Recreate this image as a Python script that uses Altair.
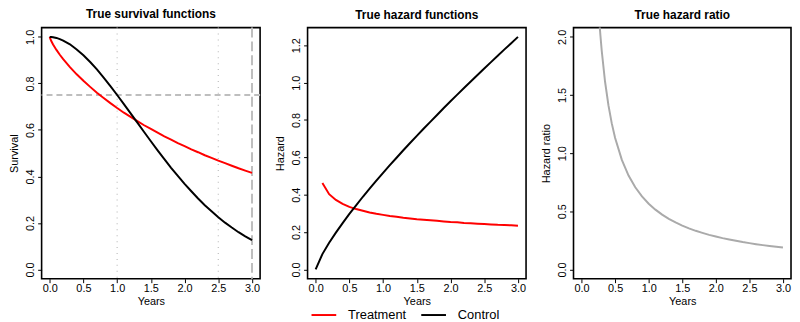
import altair as alt
import pandas as pd

# ---- data ----
surv_time = [0, 0.01, 0.025, 0.05, 0.1, 0.15, 0.2, 0.3, 0.4, 0.5, 0.6, 0.7, 0.8, 0.9,
             1.0, 1.1, 1.2, 1.3, 1.4, 1.5, 1.6, 1.7, 1.8, 1.9, 2.0, 2.1, 2.2, 2.3,
             2.4, 2.5, 2.6, 2.7, 2.8, 2.9, 3.0]
surv_treatment = [1.0, 0.991, 0.981, 0.967, 0.944, 0.923, 0.904, 0.870, 0.839, 0.811,
                  0.785, 0.760, 0.737, 0.715, 0.694, 0.674, 0.656, 0.638, 0.620, 0.604,
                  0.588, 0.572, 0.558, 0.543, 0.530, 0.516, 0.504, 0.491, 0.480, 0.468,
                  0.457, 0.446, 0.435, 0.425, 0.415]
surv_control = [1.0, 1.0, 0.9996, 0.9987, 0.9955, 0.9906, 0.984, 0.968, 0.946, 0.921,
                0.892, 0.860, 0.825, 0.788, 0.750, 0.711, 0.671, 0.631, 0.591, 0.551,
                0.512, 0.474, 0.437, 0.402, 0.368, 0.336, 0.305, 0.276, 0.250, 0.224,
                0.201, 0.180, 0.160, 0.142, 0.126]

haz_time = [0, 0.1, 0.2, 0.3, 0.4, 0.5, 0.6, 0.7, 0.8, 0.9, 1.0, 1.1, 1.2, 1.3, 1.4,
            1.5, 1.6, 1.7, 1.8, 1.9, 2.0, 2.1, 2.2, 2.3, 2.4, 2.5, 2.6, 2.7, 2.8, 2.9, 3.0]
haz_control = [0.0, 0.082, 0.143, 0.197, 0.248, 0.297, 0.343, 0.389, 0.432, 0.475,
               0.517, 0.558, 0.598, 0.638, 0.677, 0.715, 0.753, 0.790, 0.827, 0.864,
               0.900, 0.936, 0.971, 1.006, 1.041, 1.076, 1.110, 1.144, 1.178, 1.211, 1.245]
# treatment hazard is undefined at t = 0; starts at t = 0.1
haz_treatment = [None, 0.463, 0.403, 0.372, 0.351, 0.335, 0.323, 0.314, 0.305, 0.298,
                 0.292, 0.286, 0.282, 0.277, 0.273, 0.269, 0.266, 0.263, 0.260, 0.257,
                 0.254, 0.252, 0.249, 0.247, 0.245, 0.243, 0.241, 0.239, 0.238, 0.236, 0.234]

hr_time = [0.1, 0.15, 0.2, 0.25, 0.26, 0.27, 0.28, 0.3, 0.35, 0.4, 0.45, 0.5, 0.6, 0.7,
           0.8, 0.9, 1.0, 1.1, 1.2, 1.3, 1.4, 1.5, 1.6, 1.7, 1.8, 1.9, 2.0, 2.1, 2.2,
           2.3, 2.4, 2.5, 2.6, 2.7, 2.8, 2.9, 3.0]
hr_value = [5.65, 3.767, 2.825, 2.26, 2.173, 2.093, 2.018, 1.883, 1.614, 1.413, 1.256,
            1.13, 0.942, 0.807, 0.706, 0.628, 0.565, 0.514, 0.471, 0.435, 0.404, 0.377,
            0.353, 0.332, 0.314, 0.297, 0.283, 0.269, 0.257, 0.246, 0.235, 0.226, 0.217,
            0.209, 0.202, 0.195, 0.188]

groups = ["Treatment", "Control"]
group_colors = ["#ff0000", "#000000"]
x_ticks = [0, 0.5, 1.0, 1.5, 2.0, 2.5, 3.0]
surv_ticks = [0, 0.2, 0.4, 0.6, 0.8, 1.0]
haz_ticks = [0, 0.2, 0.4, 0.6, 0.8, 1.0, 1.2]
hr_ticks = [0, 0.5, 1.0, 1.5, 2.0]
dotted_x = [1.0, 2.5]
dashed_y = [0.75]
dashed_x = [3.0]

# ---- tables ----
surv_df = pd.DataFrame(
    [{"t": t, "v": v, "g": "Treatment"} for t, v in zip(surv_time, surv_treatment)]
    + [{"t": t, "v": v, "g": "Control"} for t, v in zip(surv_time, surv_control)]
)
haz_df = pd.DataFrame(
    [{"t": t, "v": v, "g": "Treatment"} for t, v in zip(haz_time, haz_treatment) if v is not None]
    + [{"t": t, "v": v, "g": "Control"} for t, v in zip(haz_time, haz_control)]
)
hr_df = pd.DataFrame({"t": hr_time, "v": hr_value})

FONT = "Liberation Sans"
W, H = 221, 254

xscale = alt.Scale(domain=[-0.12, 3.12], nice=False, zero=False)


def xaxis():
    return alt.Axis(values=x_ticks, format=".1f", title="Years", labelAngle=0,
                    tickSize=4, labelPadding=0, titlePadding=2, domain=False, grid=False,
                    labelOverlap=False, labelFlush=False)


def yaxis(title, ticks, fmt):
    return alt.Axis(values=ticks, format=fmt, title=title, labelAngle=270,
                    labelAlign="center", labelBaseline="bottom", tickSize=4,
                    labelPadding=2, titlePadding=5, domain=False, grid=False,
                    labelOverlap=False, labelFlush=False)


color = alt.Color("g:N", scale=alt.Scale(domain=groups, range=group_colors),
                  legend=alt.Legend(title=None, orient="none", direction="horizontal",
                                    legendX=272, legendY=277, symbolType="stroke",
                                    symbolSize=625, symbolStrokeWidth=2,
                                    labelOffset=11, columnPadding=11,
                                    labelFontSize=13, labelFont=FONT, padding=0))


def title(text):
    return alt.TitleParams(text=text, fontSize=12, fontWeight="bold", font=FONT,
                           anchor="middle", offset=6)


# panel 1
s_y = alt.Scale(domain=[-0.04, 1.04], nice=False, zero=False)
p1_lines = alt.Chart(surv_df).mark_line(strokeWidth=2, clip=True).encode(
    x=alt.X("t:Q", scale=xscale, axis=xaxis()),
    y=alt.Y("v:Q", scale=s_y, axis=yaxis("Survival", surv_ticks, ".1f")),
    color=color,
    order=alt.Order("t:Q"),
)
p1_dot = alt.Chart(pd.DataFrame({"x": dotted_x})).mark_rule(
    color="#bebebe", strokeWidth=1.2, strokeDash=[1, 5]).encode(
    x=alt.X("x:Q", scale=xscale, axis=xaxis()))
p1_hdash = alt.Chart(pd.DataFrame({"y": dashed_y})).mark_rule(
    color="#bebebe", strokeWidth=2, strokeDash=[6, 4]).encode(
    y=alt.Y("y:Q", scale=s_y, axis=yaxis("Survival", surv_ticks, ".1f")))
p1_vdash = alt.Chart(pd.DataFrame({"x": dashed_x})).mark_rule(
    color="#bebebe", strokeWidth=2, strokeDash=[10, 4]).encode(
    x=alt.X("x:Q", scale=xscale, axis=xaxis()))
p1 = alt.layer(p1_dot, p1_hdash, p1_vdash, p1_lines).properties(
    width=W, height=H, title=title("True survival functions"))

# panel 2
h_y = alt.Scale(domain=[-0.0498, 1.2948], nice=False, zero=False)
p2 = alt.Chart(haz_df).mark_line(strokeWidth=2, clip=True).encode(
    x=alt.X("t:Q", scale=xscale, axis=xaxis()),
    y=alt.Y("v:Q", scale=h_y, axis=yaxis("Hazard", haz_ticks, ".1f")),
    color=color,
    order=alt.Order("t:Q"),
).properties(width=W, height=H, title=title("True hazard functions"))

# panel 3
r_y = alt.Scale(domain=[-0.08, 2.08], nice=False, zero=False)
p3 = alt.Chart(hr_df).mark_line(strokeWidth=2, clip=True, color="#aaaaaa").encode(
    x=alt.X("t:Q", scale=xscale, axis=xaxis()),
    y=alt.Y("v:Q", scale=r_y, axis=yaxis("Hazard ratio", hr_ticks, ".1f")),
    order=alt.Order("t:Q"),
).properties(width=W - 1, height=H, title=title("True hazard ratio"))

chart = alt.HConcatChart(hconcat=[p1, p2, p3], spacing=48, bounds="flush").properties(
    padding={"left": 0, "top": -3, "right": 0, "bottom": 0}
).configure_view(stroke="#000000", strokeWidth=1.6).configure_axis(
    labelFont=FONT, titleFont=FONT, labelFontSize=11, titleFontSize=11,
    titleFontWeight="normal", labelColor="#000000", titleColor="#000000",
    tickColor="#000000", tickWidth=1, labelOverlap=False, labelFlush=False,
).configure_legend(labelColor="#000000")

chart.save("out.html", embed_options={"renderer": "svg", "actions": False})
